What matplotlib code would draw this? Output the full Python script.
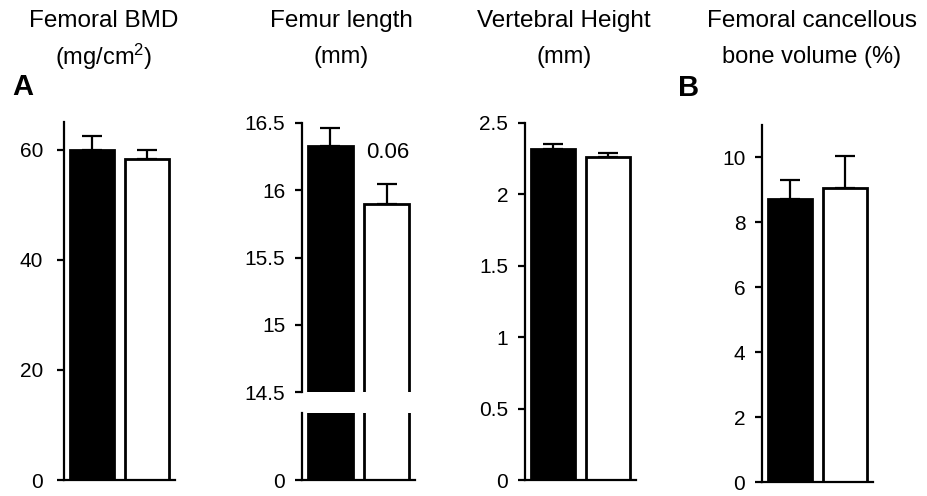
import matplotlib
matplotlib.use('Agg')
from matplotlib import pyplot as plt

plt.rcParams['font.family'] = ['Liberation Sans', 'DejaVu Sans']
plt.rcParams['mathtext.fontset'] = 'custom'
plt.rcParams['mathtext.rm'] = 'Liberation Sans'
plt.rcParams['mathtext.default'] = 'regular'

# two groups per panel: filled (black) and open (white) bars
bar_colors = ['black', 'white']

bmd_mean = [60.0, 58.3]
bmd_err = [2.4, 1.7]
bmd_ticks = [0, 20, 40, 60]

femur_mean = [16.33, 15.90]
femur_err = [0.13, 0.15]
femur_ticks = [14.5, 15, 15.5, 16, 16.5]
femur_ticklabels = ['14.5', '15', '15.5', '16', '16.5']
femur_p = '0.06'

vert_mean = [2.32, 2.26]
vert_err = [0.035, 0.028]
vert_ticks = [0, 0.5, 1, 1.5, 2, 2.5]
vert_ticklabels = ['0', '0.5', '1', '1.5', '2', '2.5']

bv_mean = [8.73, 9.07]
bv_err = [0.59, 0.96]
bv_ticks = [0, 2, 4, 6, 8, 10]

W, H = 927, 496
fig = plt.figure(figsize=(W / 100, H / 100), dpi=100)


def px_axes(left, right, top, bottom):
    # axes box given in pixel coordinates of the figure (y from top)
    return fig.add_axes([left / W, (H - bottom) / H, (right - left) / W, (bottom - top) / H])


def style(ax, pad=7):
    for side in ['top', 'right']:
        ax.spines[side].set_visible(False)
    for side in ['left', 'bottom']:
        ax.spines[side].set_linewidth(1.6)
    ax.tick_params(axis='y', direction='out', length=5, width=1.6, labelsize=15, pad=pad)
    ax.set_xticks([])
    ax.set_xlim(-0.5, 1.5)


def draw_bars(ax, means, errs, with_err=True):
    xs = range(len(means))
    ax.bar(xs, means, width=0.8, color=bar_colors, edgecolor='black', linewidth=2, zorder=2)
    if with_err:
        ax.errorbar(xs, means, yerr=[[0] * len(errs), errs], fmt='none', ecolor='black',
                    elinewidth=1.6, capsize=7.5, capthick=1.6, zorder=1)


# A: Femoral BMD
ax1 = px_axes(64, 175, 122, 480)
draw_bars(ax1, bmd_mean, bmd_err)
ax1.set_ylim(0, 65)
ax1.set_yticks(bmd_ticks)
style(ax1, pad=10)

# Femur length, broken axis
ax2 = px_axes(302, 415, 123, 392)
draw_bars(ax2, femur_mean, femur_err)
ax2.set_ylim(14.5, 16.5)
ax2.set_yticks(femur_ticks)
ax2.set_yticklabels(femur_ticklabels)
style(ax2)
ax2.spines['bottom'].set_visible(False)
ax2.annotate(femur_p, xy=(1, femur_mean[1] + femur_err[1]), xytext=(1, 22),
             textcoords='offset points', ha='center', va='center', fontsize=16)

ax2b = px_axes(302, 415, 413, 480)
draw_bars(ax2b, femur_mean, femur_err, with_err=False)
ax2b.set_ylim(0, 1)
ax2b.set_yticks([0])
style(ax2b)

# Vertebral height
ax3 = px_axes(525, 636, 123, 480)
draw_bars(ax3, vert_mean, vert_err)
ax3.set_ylim(0, 2.5)
ax3.set_yticks(vert_ticks)
ax3.set_yticklabels(vert_ticklabels)
style(ax3)

# B: Femoral cancellous bone volume
ax4 = px_axes(762, 873, 125, 482)
draw_bars(ax4, bv_mean, bv_err)
ax4.set_ylim(0, 11)
ax4.set_yticks(bv_ticks)
style(ax4)

titles = [(104, 'Femoral BMD', '(mg/cm$^{2}$)'),
          (341, 'Femur length', '(mm)'),
          (564, 'Vertebral Height', '(mm)'),
          (812, 'Femoral cancellous', 'bone volume (%)')]
for xc, line1, line2 in titles:
    fig.text(xc / W, 1 - 21 / H, line1, ha='center', va='center', fontsize=17.5)
    fig.text(xc / W, 1 - 57 / H, line2, ha='center', va='center', fontsize=17)

fig.text(23 / W, 1 - 87 / H, 'A', ha='center', va='center', fontsize=21, fontweight='bold')
fig.text(689 / W, 1 - 88 / H, 'B', ha='center', va='center', fontsize=21, fontweight='bold')

fig.savefig('out.png', dpi=100)
